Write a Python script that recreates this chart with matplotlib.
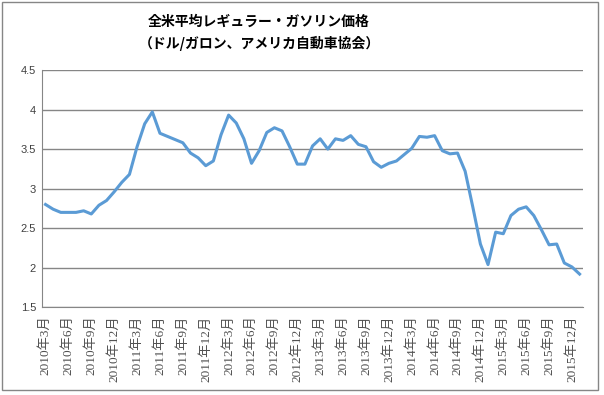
import matplotlib
matplotlib.use("Agg")
import matplotlib.pyplot as plt
from matplotlib.patches import Rectangle

# 月ごとのガソリン価格 (ドル/ガロン), 2010年3月〜2016年1月
months = []
for y in range(2010, 2017):
    for m in range(1, 13):
        if (y == 2010 and m < 3) or (y == 2016 and m > 1):
            continue
        months.append(f"{y}年{m}月")

prices = [2.80, 2.74, 2.70, 2.70, 2.70, 2.72, 2.68, 2.79, 2.85, 2.96,
          3.08, 3.18, 3.53, 3.82, 3.97, 3.70, 3.66, 3.62, 3.58, 3.45,
          3.39, 3.29, 3.35, 3.68, 3.93, 3.83, 3.63, 3.32, 3.48, 3.71,
          3.77, 3.73, 3.53, 3.31, 3.31, 3.54, 3.63, 3.50, 3.63, 3.61,
          3.67, 3.56, 3.53, 3.34, 3.27, 3.32, 3.35, 3.43, 3.51, 3.66,
          3.65, 3.67, 3.48, 3.44, 3.45, 3.22, 2.77, 2.30, 2.04, 2.45,
          2.43, 2.66, 2.74, 2.77, 2.66, 2.48, 2.29, 2.30, 2.06, 2.01,
          1.92]

yticks = [1.5, 2, 2.5, 3, 3.5, 4, 4.5]
ytick_labels = ["1.5", "2", "2.5", "3", "3.5", "4", "4.5"]

title = "全米平均レギュラー・ガソリン価格\n（ドル/ガロン、アメリカ自動車協会）"

grid_col = "#868686"

fig = plt.figure(figsize=(6.04, 3.95), dpi=100)
ax = fig.add_axes([41.7 / 604, 1 - 307.3 / 395, (583.4 - 41.7) / 604, (307.3 - 70) / 395])

x = list(range(len(prices)))
ax.plot(x, prices, color="#5B9BD5", linewidth=2.2, solid_joinstyle="round")

ax.set_xlim(-0.5, len(prices) - 0.5)
ax.set_ylim(1.5, 4.5)
ax.set_yticks(yticks)
ax.set_yticklabels(ytick_labels, family="Liberation Sans", fontsize=8, color="#404040")
ax.set_xticks(x[::3])
ax.set_xticklabels(months[::3], rotation=90, fontsize=9.5, color="#505050",
                   family=["Liberation Serif", "Noto Sans CJK JP"])
ax.tick_params(axis="both", length=0, pad=4)
ax.tick_params(axis="x", pad=6)

ax.grid(axis="y", color=grid_col, linewidth=1)
ax.set_axisbelow(True)
for side in ["top", "right"]:
    ax.spines[side].set_visible(False)
ax.spines["left"].set_color(grid_col)
ax.spines["bottom"].set_color(grid_col)

fig.text(259 / 604, 1 - 33 / 395, title, ha="center", va="center",
         fontsize=10, fontweight="bold", linespacing=1.6,
         family=["Noto Sans CJK JP", "DejaVu Sans"])

fig.patches.append(Rectangle((2 / 604, 1 - 390 / 395), 596 / 604, 388 / 395,
                             transform=fig.transFigure, fill=False,
                             edgecolor=grid_col, linewidth=1))

fig.savefig("out.png", dpi=100)
